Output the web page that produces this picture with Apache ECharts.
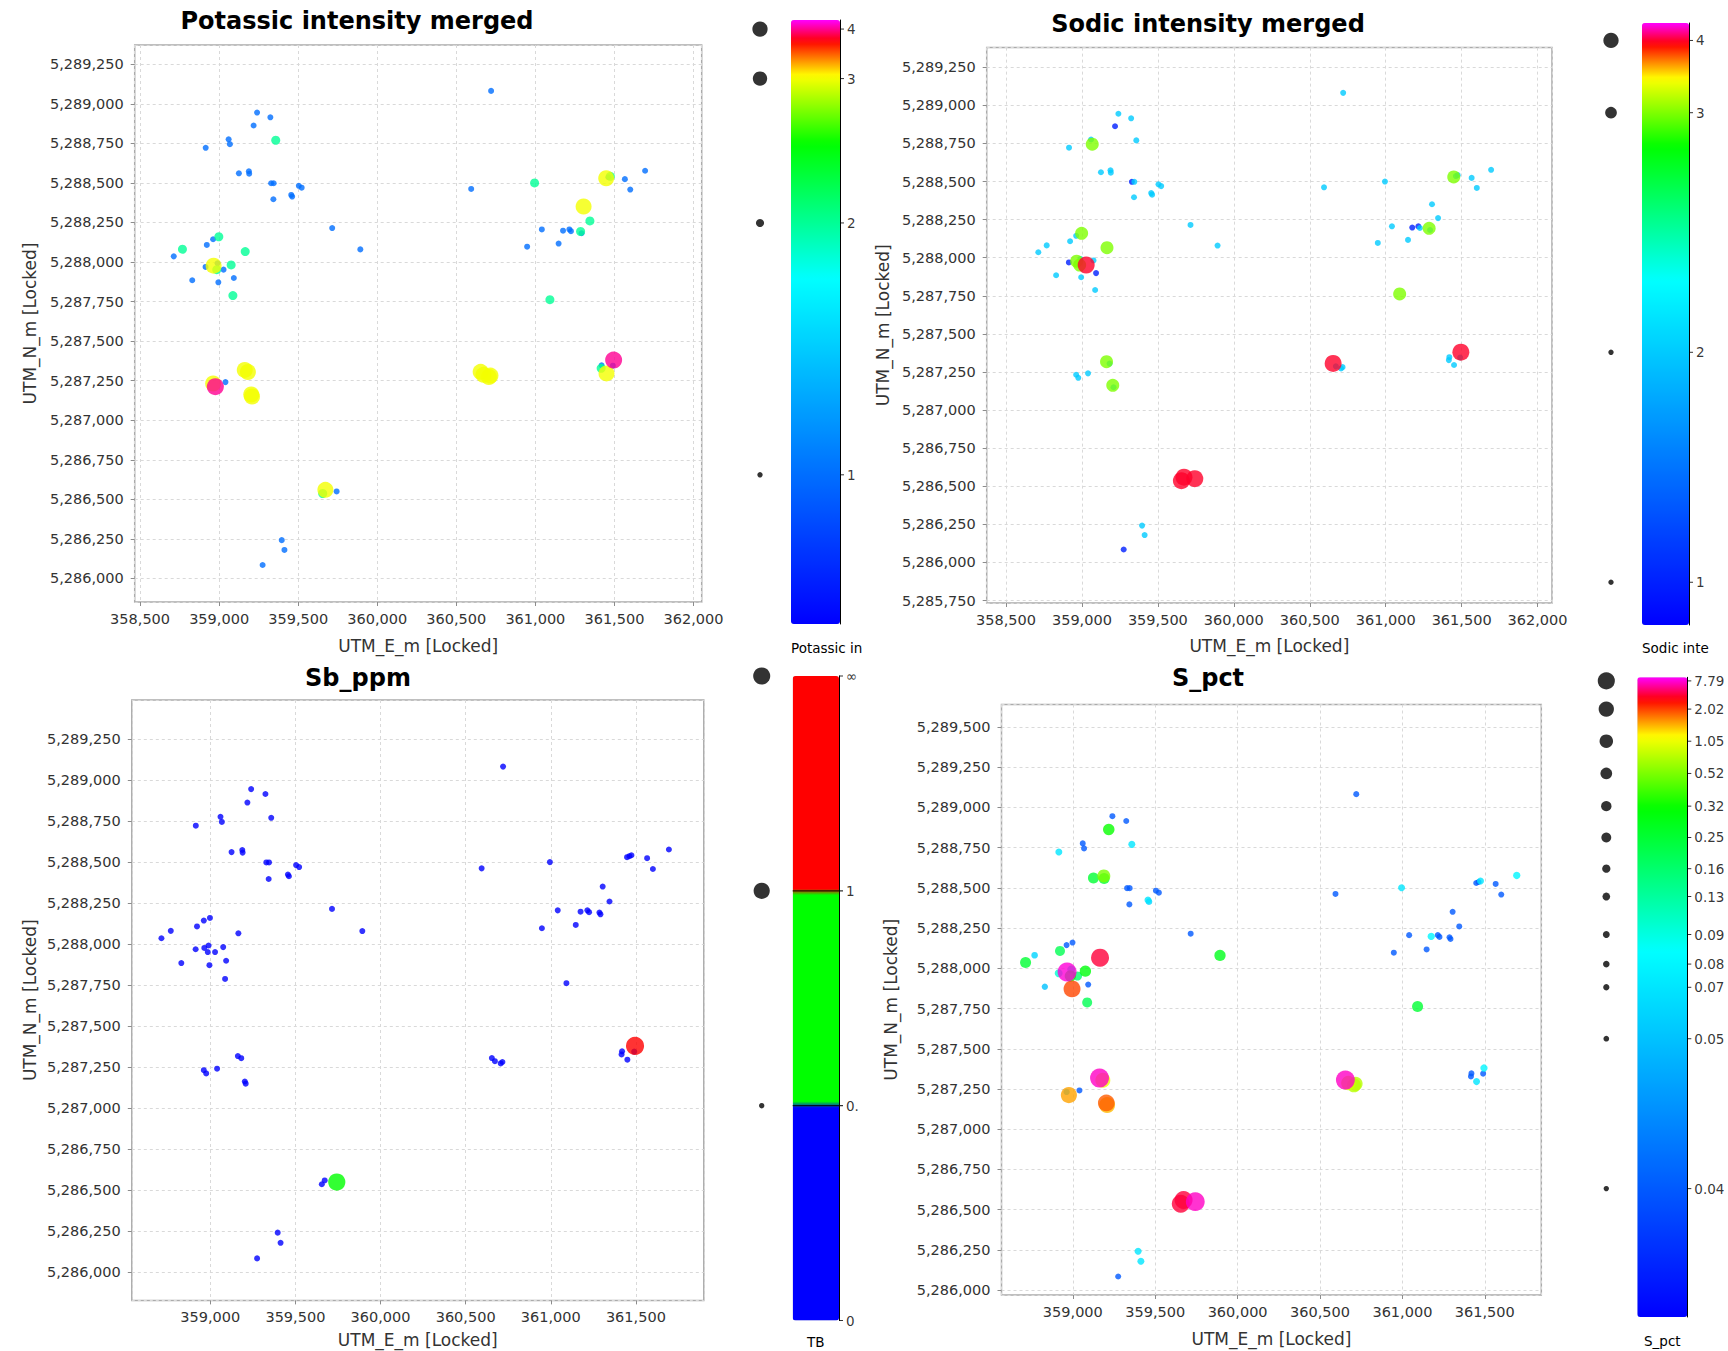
<!DOCTYPE html>
<html>
<head>
<meta charset="utf-8">
<script src="https://cdn.jsdelivr.net/npm/echarts@6/dist/echarts.min.js"></script>
<style>
  html, body { margin: 0; padding: 0; background: #ffffff; }
  #chart { width: 1728px; height: 1351px; }
</style>
</head>
<body>
<div id="chart"></div>
<script>
// Sample locations, UTM easting / northing in metres
const sampleE = [360720, 359240, 359324, 359218, 358915, 359060, 359068, 359358, 359125, 359188,
                 359190, 359329, 359345, 359343, 359456, 359462, 359504, 359522, 359715, 359893,
                 358713, 358768, 358922, 358962, 358998, 359165, 358914, 358965, 358985, 359028,
                 359076, 359093, 358995, 358830, 359087, 358962, 358976, 359040, 359162, 359182,
                 359203, 359208, 359655, 359672, 359743, 359396, 359413, 359275, 360594, 360995,
                 361041, 360948, 361147, 361175, 361215, 361225, 361286, 361292, 361305, 361345,
                 361092, 361448, 361474, 361462, 361566, 361600, 361694, 360654, 360672, 360706,
                 360716, 361419, 361416, 361450, 361495, 361490, 358990];
const sampleN = [5289082, 5288945, 5288915, 5288863, 5288722, 5288776, 5288745, 5288770, 5288561, 5288574,
                 5288558, 5288498, 5288498, 5288397, 5288424, 5288414, 5288482, 5288470, 5288215, 5288080,
                 5288036, 5288081, 5288108, 5288144, 5288160, 5288066, 5287969, 5287977, 5287952, 5287952,
                 5287982, 5287899, 5287872, 5287885, 5287788, 5287232, 5287212, 5287241, 5287318, 5287305,
                 5287163, 5287150, 5286537, 5286560, 5286550, 5286242, 5286180, 5286085, 5288462, 5288500,
                 5288206, 5288097, 5288117, 5288198, 5288206, 5288195, 5288193, 5288182, 5288351, 5288260,
                 5287762, 5288530, 5288542, 5288536, 5288524, 5288458, 5288577, 5287306, 5287287, 5287273,
                 5287282, 5287347, 5287328, 5287296, 5287380, 5287345, 5287992];

// Alteration intensities and assays per sample
const potassic = [1, 1, 1, 1, 1, 1, 1, 2, 1, 1,
                  1, 1, 1, 1, 1, 1, 1, 1, 1, 1,
                  1, 2, 1, 1, 2, 2, 1, 3, 2, 1,
                  2, 1, 1, 1, 2, 3, 4, 1, 3, 3,
                  3, 3, 2, 3, 1, 1, 1, 1, 1, 2,
                  1, 1, 1, 1, 1, 1, 2, 1, 3, 2,
                  2, 3, 2, 1, 1, 1, 1, 3, 3, 3,
                  3, 1, 2, 3, 4, 1, 1];
const sodic = [2, 2, 2, 1, 2, 2, 3, 2, 2, 2,
               2, 1, 2, 2, 2, 2, 2, 2, 2, 2,
               2, 2, 2, 2, 3, 3, 1, 3, 3, 4,
               2, 1, 2, 2, 2, 2, 2, 2, 3, 2,
               3, 2, 4, 4, 4, 2, 2, 1, 2, 2,
               2, 2, 2, 1, 1, 2, 3, 2, 2, 2,
               3, 3, 2, 2, 2, 2, 2, 4, 2, 2,
               2, 2, 2, 2, 4, 2, 2];
const sbPpm = [0.2, 0.1, 0.2, 0.2, 0.1, 0.2, 0.2, 0.3, 0.2, 0.1,
               0.2, 0.2, 0.1, 0.2, 0.2, 0.1, 0.2, 0.2, 0.1, 0.2,
               0.2, 0.1, 0.2, 0.2, 0.3, 0.2, 0.1, 0.2, 0.2, 0.3,
               0.2, 0.1, 0.2, 0.2, 0.1, 0.2, 0.3, 0.2, 0.2, 0.1,
               0.2, 0.2, 0.3, 0.3, 0.7, 0.1, 0.2, 0.1, 0.2, 0.2,
               0.1, 0.2, 0.2, 0.1, 0.2, 0.2, 0.3, 0.2, 0.2, 0.1,
               0.2, 0.3, 0.2, 0.2, 0.1, 0.2, 0.2, 0.3, 0.2, 0.2,
               0.1, 0.2, 0.3, 0.2, 2.0, 0.2, 0.2];
const sPct = [0.04, 0.04, 0.04, 0.32, 0.07, 0.04, 0.04, 0.07, 0.25, 0.52,
              0.25, 0.04, 0.04, 0.04, 0.07, 0.06, 0.04, 0.04, 0.04, 0.28,
              0.25, 0.06, 0.2, 0.04, 0.04, 5.0, 0.1, 7.79, 0.3, 0.16,
              0.3, 0.04, 2.0, 0.05, 0.2, 0.05, 1.6, 0.04, 7.5, 1.05,
              1.9, 1.5, 5.0, 5.0, 7.5, 0.07, 0.07, 0.04, 0.04, 0.07,
              0.04, 0.04, 0.04, 0.08, 0.04, 0.04, 0.04, 0.04, 0.04, 0.04,
              0.25, 0.04, 0.07, 0.04, 0.04, 0.04, 0.08, 7.5, 0.9, 0.8,
              0.8, 0.04, 0.04, 0.07, 0.08, 0.04, 0.1];

// Colour-bar tick values and their labels
const potassicTicks = [1, 2, 3, 4];
const sodicTicks = [1, 2, 3, 4];
const sbTicks = [0, 0.5, 1, Infinity];
const sbTickLabels = ['0', '0.5', '1', '\u221E'];
const sPctTicks = [0.04, 0.05, 0.07, 0.08, 0.09, 0.13, 0.16, 0.25, 0.32, 0.52, 1.05, 2.02, 7.79];

// Histogram-stretched colour scales: value -> position along the colour bar (0..1)
const potassicStretch = { domain: [0.41, 1, 2, 3, 4, 4.18], range: [0, 0.247, 0.664, 0.903, 0.985, 1] };
const sodicStretch = { domain: [0.81, 1, 2, 3, 4, 4.24], range: [0, 0.071, 0.453, 0.851, 0.971, 1] };
const sbStretch = { domain: [0, 0.5, 1, 10], range: [0, 1 / 3, 2 / 3, 1] };
const sPctStretch = {
  domain: [0.031, 0.04, 0.05, 0.07, 0.08, 0.09, 0.13, 0.16, 0.25, 0.32, 0.52, 1.05, 2.02, 7.79, 8.52],
  range: [0, 0.2007, 0.435, 0.5154, 0.5517, 0.5979, 0.6573, 0.7008, 0.7496, 0.7986, 0.8497, 0.9001, 0.9503, 0.9944, 1]
};

// Symbol size scales: value -> marker diameter (px)
const potassicSizes = { domain: [1, 2, 3, 4], range: [6, 9, 16, 17] };
const sodicSizes = { domain: [1, 2, 3, 4], range: [6, 6, 13, 17] };
const sbSizes = { domain: [0, 0.5, 0.6, 1, 10], range: [6, 6, 17, 18, 19] };
const sPctSizes = { domain: [0.04, 0.07, 0.1, 0.25, 0.52, 1.05, 2.02, 7.79], range: [6, 7, 8, 11, 13, 15, 17, 19] };

function piecewise(domain, range) {
  return function (v) {
    if (v <= domain[0]) return range[0];
    for (let i = 1; i < domain.length; i++) {
      if (v <= domain[i]) {
        const a = domain[i - 1], b = domain[i];
        return range[i - 1] + (range[i] - range[i - 1]) * (v - a) / (b - a);
      }
    }
    return range[range.length - 1];
  };
}

// Rainbow ramp: blue -> cyan -> green -> yellow -> red -> magenta
const rainbowStops = [[0, [0, 0, 255]], [0.572, [0, 255, 255]], [0.795, [0, 255, 0]],
                      [0.908, [255, 255, 0]], [0.965, [255, 0, 0]], [1, [255, 0, 255]]];
function rainbowAt(t) {
  for (let i = 1; i < rainbowStops.length; i++) {
    const t0 = rainbowStops[i - 1][0], c0 = rainbowStops[i - 1][1];
    const t1 = rainbowStops[i][0], c1 = rainbowStops[i][1];
    if (t <= t1) {
      const f = (t - t0) / (t1 - t0);
      return 'rgb(' + c0.map((c, j) => Math.round(c + (c1[j] - c) * f)).join(',') + ')';
    }
  }
  return 'rgb(255,0,255)';
}
const rainbow = Array.from({ length: 201 }, (_, i) => rainbowAt(i / 200));
// Three-class ramp (blue / green / red) with sharp class breaks
const threeClass = Array.from({ length: 300 }, (_, i) => {
  const t = i / 299;
  return t < 1 / 3 ? '#0000ff' : (t < 2 / 3 ? '#00ff00' : '#ff0000');
});

const FONT = '"DejaVu Sans", Verdana, sans-serif';
const TEXT = '#333333';
const fmtThousands = v => Math.round(v).toString().replace(/\B(?=(\d{3})+(?!\d))/g, ',');

const panels = [
  {
    title: 'Potassic intensity merged', titleAt: [357, 21],
    values: potassic, ticks: potassicTicks, tickLabels: potassicTicks.map(String), legendTicks: potassicTicks,
    stretch: potassicStretch, sizes: potassicSizes, colors: rainbow,
    grid: { left: 134.7, top: 45, width: 567, height: 557 },
    xExt: [358466, 362052], yExt: [5285851, 5289372], xNameGap: 35.5, yNameGap: 96.5,
    bar: { left: 791, top: 20, width: 49, height: 604 },
    barTitle: 'Potassic intensity merged', barTitleAlign: 'left', barTitleY: 648, barTitleWidth: 73
  },
  {
    title: 'Sodic intensity merged', titleAt: [1208, 24],
    values: sodic, ticks: sodicTicks, tickLabels: sodicTicks.map(String), legendTicks: sodicTicks,
    stretch: sodicStretch, sizes: sodicSizes, colors: rainbow,
    grid: { left: 986.7, top: 47.6, width: 565.3, height: 555.4 },
    xExt: [358373, 362095], yExt: [5285734, 5289379], xNameGap: 34.5, yNameGap: 95.5,
    bar: { left: 1642, top: 23, width: 47, height: 602 },
    barTitle: 'Sodic intensity merged', barTitleAlign: 'left', barTitleY: 648, barTitleWidth: 72
  },
  {
    title: 'Sb_ppm', titleAt: [358, 678],
    values: sbPpm, ticks: sbTicks, tickLabels: sbTickLabels, legendTicks: [0.5, 1, Infinity],
    stretch: sbStretch, sizes: sbSizes, colors: threeClass, classBreaks: true,
    grid: { left: 131.8, top: 700, width: 572, height: 600.4 },
    xExt: [358539, 361899], yExt: [5285829, 5289488], xNameGap: 31.5, yNameGap: 93.5,
    bar: { left: 792.7, top: 676, width: 46.3, height: 644.5 },
    barTitle: 'TB', barTitleAlign: 'center', barTitleY: 1342
  },
  {
    title: 'S_pct', titleAt: [1208, 678],
    values: sPct, ticks: sPctTicks, tickLabels: sPctTicks.map(v => v.toFixed(2)), legendTicks: sPctTicks,
    stretch: sPctStretch, sizes: sPctSizes, colors: rainbow,
    grid: { left: 1001.5, top: 704.5, width: 539.8, height: 590.5 },
    xExt: [358567, 361843], yExt: [5285970, 5289639], xNameGap: 35.5, yNameGap: 102.5,
    bar: { left: 1637.3, top: 677.3, width: 50, height: 639.7 },
    barTitle: 'S_pct', barTitleAlign: 'center', barTitleY: 1341
  }
];

const grids = [], xAxes = [], yAxes = [], series = [], visualMaps = [], graphics = [];

panels.forEach((p, i) => {
  const toBar = piecewise(p.stretch.domain, p.stretch.range);
  const toSize = piecewise(p.sizes.domain, p.sizes.range);
  const gPlot = i * 2, gBar = i * 2 + 1;

  // map frame
  grids.push({ left: p.grid.left, top: p.grid.top, width: p.grid.width, height: p.grid.height,
               show: true, borderColor: '#ababab', borderWidth: 1.5, backgroundColor: '#ffffff' });
  // colour-bar frame
  grids.push({ left: p.bar.left, top: p.bar.top, width: p.bar.width, height: p.bar.height, show: false });

  const tickLabel = { fontFamily: FONT, fontSize: 14.5, color: TEXT, showMinLabel: false, showMaxLabel: false };
  xAxes.push({
    gridIndex: gPlot, type: 'value', min: p.xExt[0], max: p.xExt[1], minInterval: 500, maxInterval: 500,
    name: 'UTM_E_m [Locked]', nameLocation: 'middle', nameGap: p.xNameGap,
    nameTextStyle: { fontFamily: FONT, fontSize: 17, color: TEXT },
    axisLine: { show: false },
    axisTick: { show: true, length: 4, lineStyle: { color: '#8c8c8c' } },
    axisLabel: Object.assign({ margin: 9, formatter: fmtThousands }, tickLabel),
    splitLine: { show: true, lineStyle: { type: [3, 3], color: '#d9d9d9', width: 1 } }
  });
  yAxes.push({
    gridIndex: gPlot, type: 'value', min: p.yExt[0], max: p.yExt[1], minInterval: 250, maxInterval: 250,
    name: 'UTM_N_m [Locked]', nameLocation: 'middle', nameGap: p.yNameGap,
    nameTextStyle: { fontFamily: FONT, fontSize: 17, color: TEXT },
    axisLine: { show: false },
    axisTick: { show: true, length: 4, lineStyle: { color: '#8c8c8c' } },
    axisLabel: Object.assign({ margin: 11, formatter: fmtThousands }, tickLabel),
    splitLine: { show: true, lineStyle: { type: [3, 3], color: '#d9d9d9', width: 1 } }
  });
  xAxes.push({ gridIndex: gBar, type: 'value', min: 0, max: 1, show: false });
  yAxes.push({
    gridIndex: gBar, type: 'value', min: 0, max: 1, position: 'right', z: 10,
    axisLine: { show: true, onZero: false, lineStyle: { color: '#000000', width: 1 } },
    axisTick: { show: false }, axisLabel: { show: false }, splitLine: { show: false }
  });

  // sample markers, drawn low-to-high so the strongest values sit on top
  const pts = sampleE.map((e, k) => [e, sampleN[k], toBar(p.values[k]), p.values[k]])
                     .sort((a, b) => a[3] - b[3]);
  series.push({
    type: 'scatter', xAxisIndex: gPlot, yAxisIndex: gPlot, data: pts,
    symbol: 'circle', symbolSize: d => toSize(d[3]),
    silent: true, animation: false
  });
  const markerSeries = series.length - 1;

  // colour bar (the visual map's own ramp)
  visualMaps.push({
    type: 'continuous', seriesIndex: markerSeries, dimension: 2, min: 0, max: 1,
    inRange: { color: p.colors }, orient: 'vertical', calculable: false, hoverLink: false,
    left: p.bar.left, top: p.bar.top, itemWidth: p.bar.width, itemHeight: p.bar.height, padding: 0
  });

  // colour-bar ticks and labels
  series.push({
    type: 'scatter', xAxisIndex: gBar, yAxisIndex: gBar, silent: true, animation: false, clip: false, z: 10,
    symbol: 'rect', itemStyle: { color: '#000000' },
    data: p.ticks.map((v, k) => {
      const across = p.classBreaks && k > 0 && k < p.ticks.length - 1;
      const item = {
        value: [1, toBar(v)],
        symbolSize: across ? [p.bar.width + 4, 1.2] : [4, 1],
        symbolOffset: across ? [2 - p.bar.width / 2, 0] : [2, 0]
      };
      if (p.classBreaks && v === 0.5) item.label = { width: 14, overflow: 'truncate', ellipsis: '' };
      return item;
    }),
    label: { show: true, position: 'right', distance: 3, color: '#000000', fontFamily: FONT, fontSize: 13.5,
             formatter: q => p.tickLabels[q.dataIndex] }
  });

  // symbol-size key beside the bar
  series.push({
    type: 'scatter', xAxisIndex: gBar, yAxisIndex: gBar, silent: true, animation: false, clip: false,
    symbol: 'circle', symbolOffset: [-31, 0], itemStyle: { color: '#000000' },
    data: p.legendTicks.map(v => ({ value: [0, toBar(v)], symbolSize: toSize(v) * 0.9 }))
  });

  // panel title
  graphics.push({
    type: 'text', x: p.titleAt[0], y: p.titleAt[1], silent: true,
    style: { text: p.title, font: 'bold 24px ' + FONT, fill: '#000000', align: 'center', verticalAlign: 'middle' }
  });
  // colour-bar caption
  const cap = { text: p.barTitle, font: '13.5px ' + FONT, fill: '#000000', verticalAlign: 'middle' };
  if (p.barTitleAlign === 'left') {
    Object.assign(cap, { align: 'left', width: p.barTitleWidth, overflow: 'truncate', ellipsis: '' });
    graphics.push({ type: 'text', x: p.bar.left, y: p.barTitleY, silent: true, style: cap });
  } else {
    Object.assign(cap, { align: 'center' });
    graphics.push({ type: 'text', x: p.bar.left + p.bar.width / 2, y: p.barTitleY, silent: true, style: cap });
  }
});

const chart = echarts.init(document.getElementById('chart'), null, { renderer: 'svg', width: 1728, height: 1351 });
chart.setOption({
  backgroundColor: '#ffffff',
  animation: false,
  grid: grids,
  xAxis: xAxes,
  yAxis: yAxes,
  visualMap: visualMaps,
  series: series,
  graphic: graphics
});
</script>
</body>
</html>
